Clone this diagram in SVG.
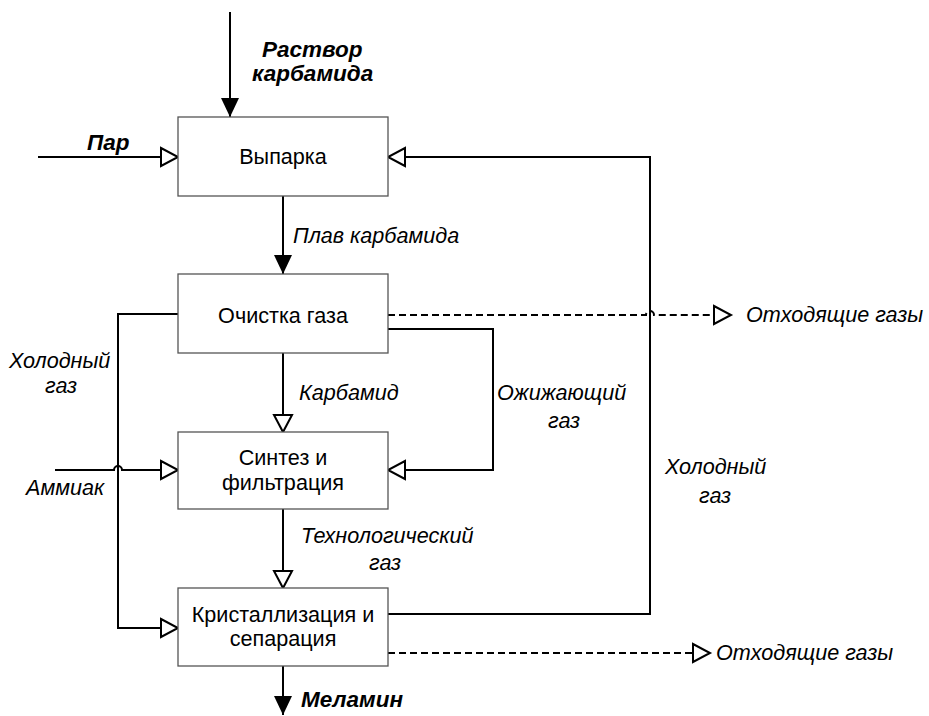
<svg xmlns="http://www.w3.org/2000/svg" width="929" height="716" viewBox="0 0 929 716">
  <style>
    .box { fill: #ffffff; stroke: #555555; stroke-width: 1.3; }
    .node-text { font-family: "Liberation Sans", Arial, sans-serif; font-size: 21.6px; fill: #000; text-anchor: middle; }
    .lbl { font-family: "Liberation Sans", Arial, sans-serif; font-size: 21.6px; font-style: italic; fill: #000; }
    .lbl-b { font-family: "Liberation Sans", Arial, sans-serif; font-size: 22.5px; font-style: italic; font-weight: bold; fill: #000; }
    .flow { fill: none; stroke: #000; stroke-width: 2; }
    .dash { stroke-dasharray: 7 4; }
  </style>
  <defs>
    <marker id="solid" markerUnits="userSpaceOnUse" viewBox="0 0 19 18" refX="19" refY="9" markerWidth="19" markerHeight="18" orient="auto">
      <path d="M0,0 L19,9 L0,18 z" fill="#000"/>
    </marker>
    <marker id="open" markerUnits="userSpaceOnUse" viewBox="-2 -2 23 22" refX="18" refY="9" markerWidth="23" markerHeight="22" orient="auto">
      <path d="M1,0 L18,9 L1,18 z" fill="#fff" stroke="#000" stroke-width="2" stroke-linejoin="miter"/>
    </marker>
  </defs>

  <!-- connectors -->
  <g id="connectors">
    <path class="flow" d="M230,12 V117" marker-end="url(#solid)"/>
    <path class="flow" d="M38,157 H178" marker-end="url(#open)"/>
    <path class="flow" d="M283,196 V274" marker-end="url(#solid)"/>
    <path class="flow" d="M283,353 V432" marker-end="url(#open)"/>
    <path class="flow" d="M283,509 V588" marker-end="url(#open)"/>
    <path class="flow" d="M283,666 V715" marker-end="url(#solid)"/>
    <path class="flow" d="M388,329 H493 V470 H388" marker-end="url(#open)"/>
    <path class="flow" d="M178,314 H118 V628 H178" marker-end="url(#open)"/>
    <path class="flow" d="M55,470 H114 A4,4 0 0 1 122,470 H178" marker-end="url(#open)"/>
    <path class="flow" d="M388,614 H650 V157 H388" marker-end="url(#open)"/>
    <path class="flow dash" d="M388,315 H646 A4,4 0 0 1 654,315 H731" marker-end="url(#open)"/>
    <path class="flow dash" d="M388,653 H710" marker-end="url(#open)"/>
  </g>

  <!-- process nodes -->
  <g id="evaporation">
    <rect class="box" x="178" y="117" width="210" height="79"/>
    <text class="node-text" x="283" y="164">Выпарка</text>
  </g>
  <g id="gas-cleaning">
    <rect class="box" x="178" y="274" width="210" height="79"/>
    <text class="node-text" x="283" y="323">Очистка газа</text>
  </g>
  <g id="synthesis">
    <rect class="box" x="178" y="432" width="210" height="77"/>
    <text class="node-text" x="283" y="465">Синтез и</text>
    <text class="node-text" x="283" y="490">фильтрация</text>
  </g>
  <g id="crystallization">
    <rect class="box" x="178" y="588" width="210" height="78"/>
    <text class="node-text" x="283" y="622">Кристаллизация и</text>
    <text class="node-text" x="283" y="646">сепарация</text>
  </g>

  <!-- flow labels -->
  <g id="labels">
    <text class="lbl-b" x="262" y="57">Раствор</text>
    <text class="lbl-b" x="252" y="81">карбамида</text>
    <text class="lbl-b" x="87" y="150">Пар</text>
    <text class="lbl" x="293" y="243">Плав карбамида</text>
    <text class="lbl" x="9" y="368">Холодный</text>
    <text class="lbl" x="45" y="393">газ</text>
    <text class="lbl" x="26" y="495">Аммиак</text>
    <text class="lbl" x="299" y="400">Карбамид</text>
    <text class="lbl" x="497" y="400">Ожижающий</text>
    <text class="lbl" x="548" y="428">газ</text>
    <text class="lbl" x="665" y="474">Холодный</text>
    <text class="lbl" x="699" y="503">газ</text>
    <text class="lbl" x="301" y="543">Технологический</text>
    <text class="lbl" x="369" y="570">газ</text>
    <text class="lbl-b" x="301" y="707">Меламин</text>
    <text class="lbl" x="746" y="322">Отходящие газы</text>
    <text class="lbl" x="716" y="660">Отходящие газы</text>
  </g>
</svg>
